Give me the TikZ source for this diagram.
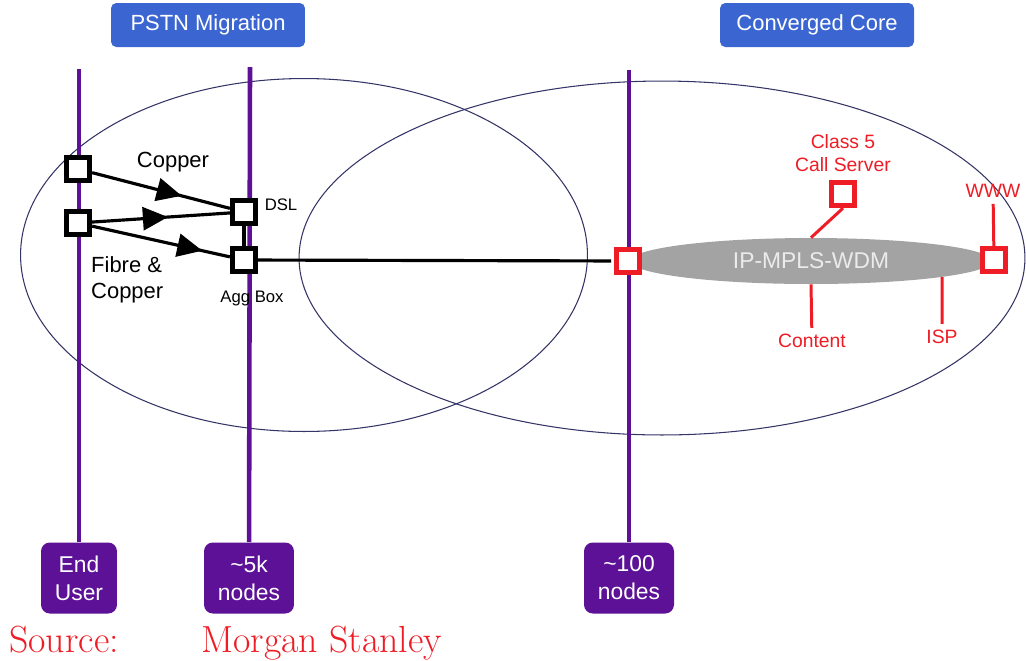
\documentclass[tikz,border=0pt]{standalone}
\usepackage{fontspec}
\newfontfamily\helv{Liberation Sans}
\usepackage{tikz}
\usetikzlibrary{arrows.meta,shapes.geometric,decorations.markings}
\definecolor{royal}{HTML}{3B66D1}
\definecolor{plum}{HTML}{5C1196}
\definecolor{signal}{HTML}{EE1C25}
\definecolor{rim}{HTML}{343466}
\definecolor{cloud}{HTML}{A3A3A3}
\tikzset{box/.style={draw=black,line width=3pt,fill=white,minimum size=.46cm,inner sep=0pt},redbox/.style={box,draw=signal},wire/.style={draw=black,line width=1.8pt},midarrow/.style={postaction={decorate},decoration={markings,mark=at position #1 with {\arrow{Triangle[length=5mm,width=4.6mm]}}}},note/.style={font=\helv\fontsize{11}{13}\selectfont,text=signal,align=center}}
\begin{document}
\begin{tikzpicture}[x=.02cm,y=-.02cm,
zone/.style={draw=rim,line width=.6pt,ellipse,inner sep=0pt},
trunk/.style={draw=plum,line width=2.6pt},
tag/.style={fill=royal,rounded corners=3pt,text=white,font=\helv\fontsize{12.5}{15}\selectfont,minimum width=3.88cm,minimum height=.88cm},
stage/.style={fill=plum,rounded corners=5pt,text=white,align=center,font=\helv\fontsize{13}{16}\selectfont,minimum width=1.8cm,minimum height=1.42cm,inner sep=2pt},
lbl/.style={font=\helv\fontsize{12.5}{15}\selectfont,align=left},
tiny/.style={font=\helv\fontsize{9.5}{11}\selectfont},
stub/.style={draw=signal,line width=1.7pt},
src/.style={anchor=base west,text=signal,font=\fontsize{21.5}{25}\selectfont,inner sep=0pt}]
\useasboundingbox (0,0) rectangle (1026,660);
\node[zone,minimum width=11.34cm,minimum height=7.06cm] (pstn) at (304,255) {};
\node[zone,minimum width=14.52cm,minimum height=7.08cm] (conv) at (662,258) {};
\node[tag] (mig) at (208,25) {PSTN Migration};
\node[tag] (cc) at (817,25) {Converged Core};
\node[stage,minimum width=1.52cm] (eu) at (79,578) {End\\User};
\node[stage] (k5) at (249,578) {\textasciitilde5k\\nodes};
\node[stage] (c100) at (629,578) {\textasciitilde100\\nodes};
\coordinate (eutop) at (79,69);
\coordinate (k5top) at (250,67);
\coordinate (c100top) at (629,70);
\draw[trunk] (eutop) -- (eu);
\draw[trunk] (k5top) -- (k5);
\draw[trunk] (c100top) -- (c100);
\node[ellipse,fill=cloud,minimum width=7.24cm,minimum height=.92cm,inner sep=0pt,text=white!92!black,font=\helv\fontsize{13}{15}\selectfont] (core) at (811,261) {IP-MPLS-WDM};
\node[box] (eu1) at (78,169) {};
\node[box] (eu2) at (78,223) {};
\node[box] (dsl) at (244,212) {};
\node[box] (agg) at (244,260) {};
\node[redbox] (pe) at (628,261) {};
\node[redbox] (cs) at (843,194) {};
\node[redbox] (wsq) at (994,260) {};
\draw[wire,midarrow=.65] (eu1) -- (dsl);
\draw[wire,midarrow=.55] (eu2) -- (dsl);
\draw[wire,midarrow=.8] (eu2) -- (agg);
\draw[wire] (dsl) -- (agg);
\draw[wire,shorten >=1.5pt] (agg) -- (pe);
\node[note] (cls) at (843,153) {Class 5\\Call Server};
\node[note] (www) at (993,191) {WWW};
\node[note] (content) at (812,341) {Content};
\node[note] (isp) at (942,337) {ISP};
\draw[stub] (cs.south) -- (core.north);
\draw[stub] (www) -- (wsq);
\draw[stub] (core.south) -- (content);
\draw[stub] (core.-7) -- (isp);
\node[lbl] (cu) at (173,162) {Copper};
\node[lbl,anchor=west] (fc) at (85,280) {Fibre \&\\Copper};
\node[tiny] (dsltxt) at (281,205) {DSL};
\node[tiny] (aggtxt) at (252,298) {Agg Box};
\node[src] (srcl) at (9,652) {Source:};
\node[src] (ms) at (201,652) {Morgan Stanley};
\end{tikzpicture}
\end{document}
